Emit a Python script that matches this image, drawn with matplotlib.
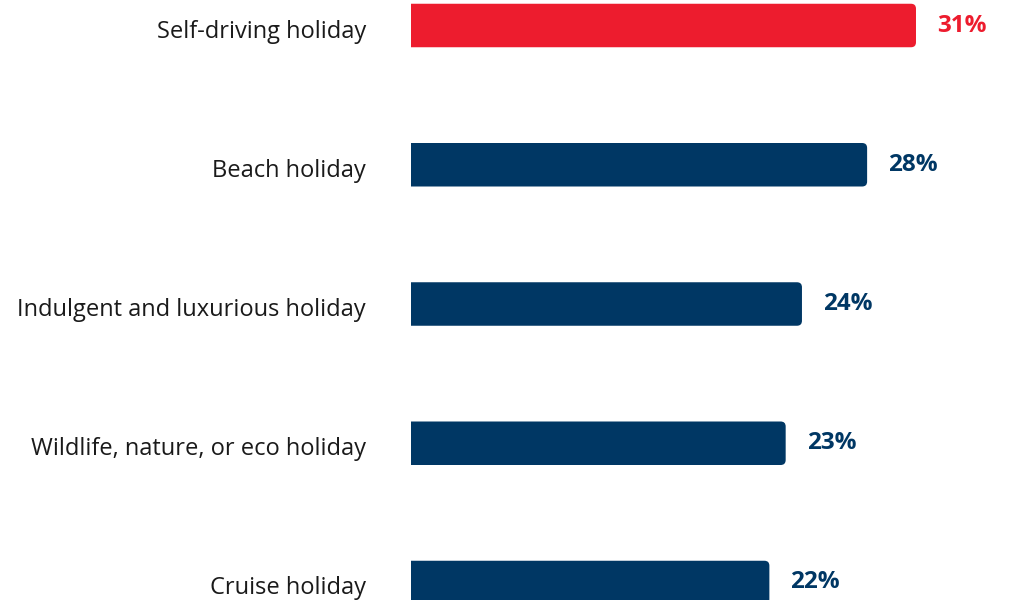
import matplotlib
matplotlib.use('Agg')
import matplotlib.pyplot as plt
import matplotlib.transforms as mtransforms
from matplotlib.path import Path
from matplotlib.patches import PathPatch

# data
categories = ['Self-driving holiday', 'Beach holiday', 'Indulgent and luxurious holiday',
              'Wildlife, nature, or eco holiday', 'Cruise holiday']
values = [31, 28, 24, 23, 22]
highlight = 'Self-driving holiday'

red = '#ED1C2E'
navy = '#003764'

plt.rcParams['font.family'] = ['Open Sans', 'DejaVu Sans']

fig = plt.figure(figsize=(10.17, 6), dpi=100)
ax = fig.add_axes([411 / 1017, 0, 1 - 411 / 1017, 1])

px_per_unit = 16.29
xmax = (1017 - 411) / px_per_unit
step = 139.25
ax.set_xlim(0, xmax)
ax.set_ylim((600 - 25.5) / step, -25.5 / step)

bar_h = 43.5 / step
rx = 5 / px_per_unit
ry = 5 / step


def rounded_bar(y, v, color):
    y0, y1 = y - bar_h / 2, y + bar_h / 2
    verts = [(0, y0), (v - rx, y0), (v, y0), (v, y0 + ry), (v, y1 - ry),
             (v, y1), (v - rx, y1), (0, y1), (0, y0)]
    codes = [Path.MOVETO, Path.LINETO, Path.CURVE3, Path.CURVE3, Path.LINETO,
             Path.CURVE3, Path.CURVE3, Path.LINETO, Path.CLOSEPOLY]
    ax.add_patch(PathPatch(Path(verts, codes), facecolor=color, edgecolor='none'))


for i, (cat, v) in enumerate(zip(categories, values)):
    c = red if cat == highlight else navy
    rounded_bar(i, v, c)
    ax.text(v + 21 / px_per_unit, i, f'{v}%', color=c, fontsize=17.5,
            fontweight='bold', va='center', ha='left')

ax.set_yticks(range(len(categories)))
ax.set_yticklabels(categories, fontsize=17, color='#1a1a1a')
ax.tick_params(axis='y', length=0, pad=32.4)
# labels sit a little below the bar centres
shift = mtransforms.ScaledTranslation(0, -3 / 100, fig.dpi_scale_trans)
for lbl in ax.get_yticklabels():
    lbl.set_transform(lbl.get_transform() + shift)
ax.set_xticks([])
for s in ax.spines.values():
    s.set_visible(False)

fig.savefig('out.png', dpi=100)
